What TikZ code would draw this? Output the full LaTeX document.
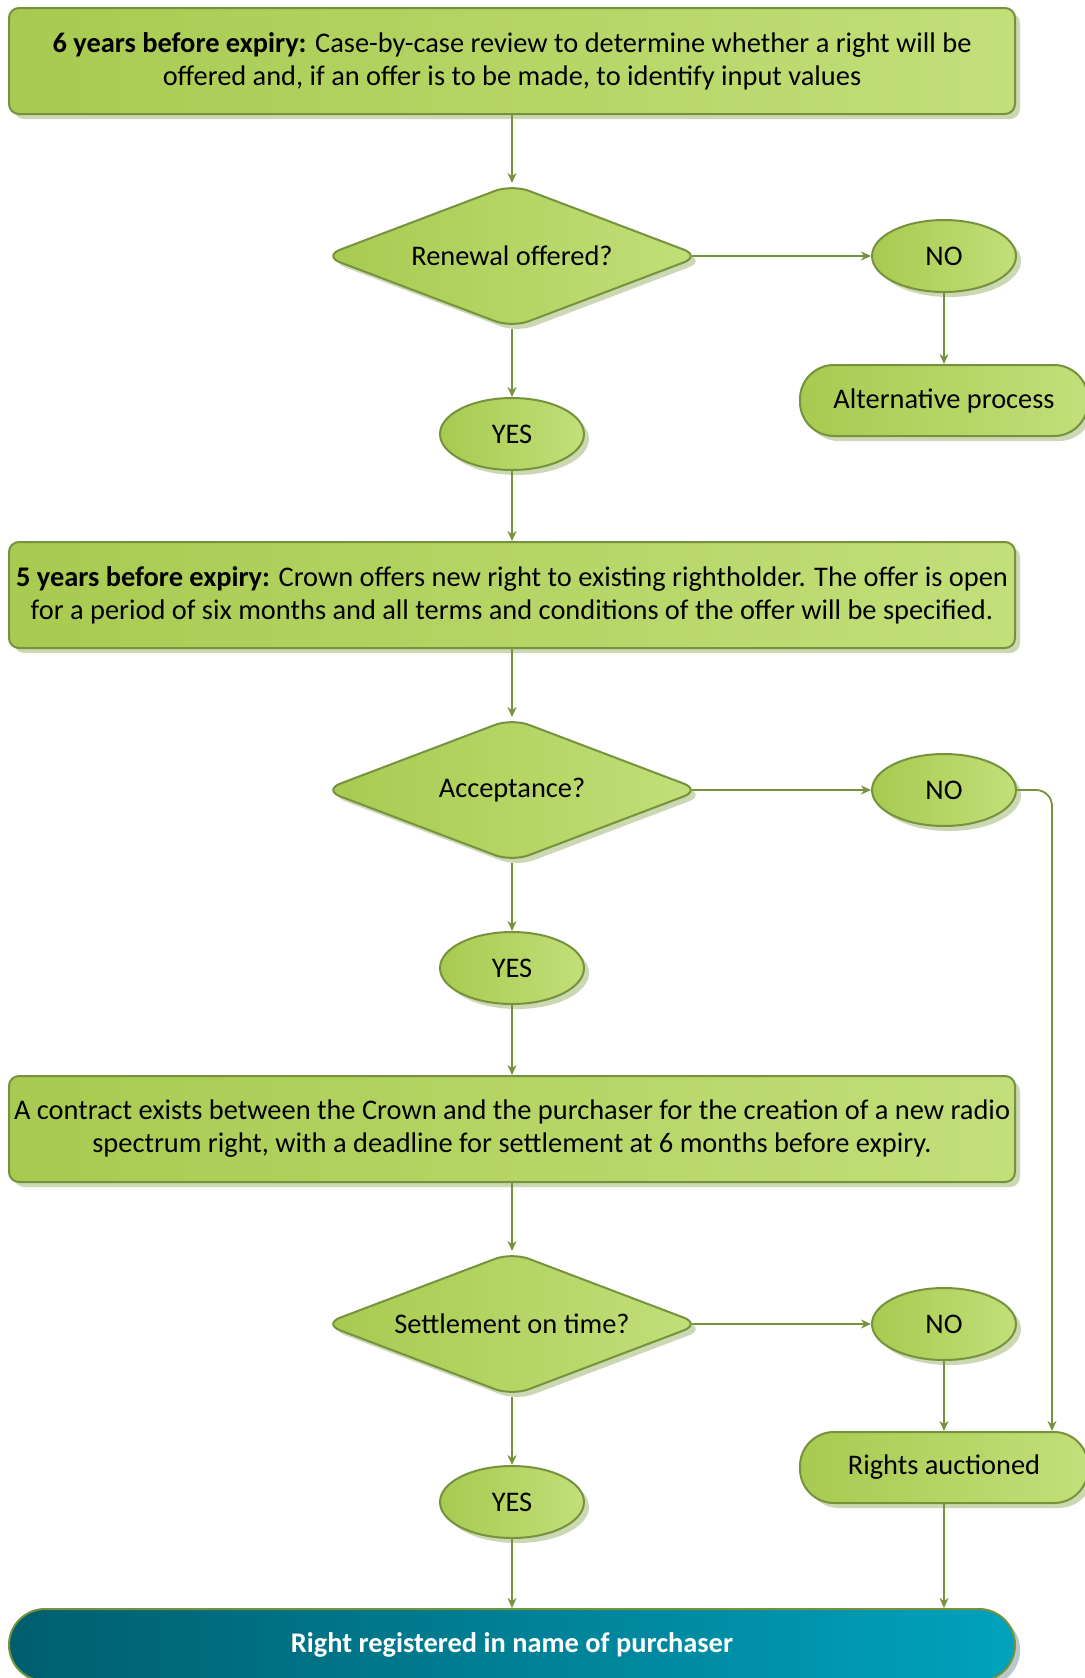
\documentclass[tikz,border=0pt]{standalone}
\usepackage{fontspec}
\setmainfont{Carlito}
\usetikzlibrary{shapes.geometric, arrows.meta, positioning, shadows}
\definecolor{leafdark}{HTML}{A8CA50}
\definecolor{leaflight}{HTML}{C2DF7A}
\definecolor{leafline}{HTML}{76923C}
\definecolor{leafshadow}{HTML}{CCD8B4}
\definecolor{tealdark}{HTML}{005E6E}
\definecolor{teallight}{HTML}{00A2BD}
\definecolor{tealshadow}{HTML}{B8C8CC}

\begin{document}
\begin{tikzpicture}[
        x=0.5pt, y=-0.5pt,
        % Node styles
        base/.style={
            draw=leafline, line width=1pt,
            left color=leafdark, right color=leaflight,
            drop shadow={shadow xshift=2.5pt, shadow yshift=-2.5pt,
                fill=leafshadow, opacity=1},
            font=\fontsize{14.2}{16.5}\selectfont, inner sep=0pt,
        },
        stepbox/.style={
            base, rectangle, rounded corners=5pt, align=center,
            minimum width=503pt, minimum height=53pt,
        },
        decision/.style={
            base, diamond, aspect=2.5, rounded corners=9pt,
            minimum width=189pt, minimum height=72pt,
        },
        answer/.style={
            base, ellipse, minimum width=72pt, minimum height=36pt,
        },
        outcome/.style={
            base, rectangle, rounded corners=17pt,
            minimum width=144pt, minimum height=35.5pt,
        },
        register/.style={
            stepbox, rounded corners=18pt, minimum height=36pt,
            left color=tealdark, right color=teallight, text=white,
            drop shadow={shadow xshift=2.5pt, shadow yshift=-2.5pt,
                fill=tealshadow, opacity=1},
            font=\fontsize{14.2}{16.5}\selectfont\bfseries,
        },
        % Connector styles
        flow/.style={
            draw=leafline, line width=0.9pt,
            -{Stealth[length=5pt, width=4.5pt]},
        },
        % the rounded diamond tip sits inside its east anchor
        branch/.style={flow, shorten <=-5pt},
    ]
    \useasboundingbox (0,0) rectangle (1084,1678);

    % --- Main column ---
    \node[stepbox] (box1) at (512,61) {\textbf{6 years before expiry:} Case-by-case review to determine whether a right will be\\offered and, if an offer is to be made, to identify input values};
    \node[decision] (dia1) at (512,256) {Renewal offered?};
    \node[answer] (yes1) at (512,434) {YES};
    \node[stepbox] (box2) at (512,595) {\textbf{5 years before expiry:} Crown offers new right to existing rightholder. The offer is open\\for a period of six months and all terms and conditions of the offer will be specified.};
    \node[decision] (dia2) at (512,790) {Acceptance?};
    \node[answer] (yes2) at (512,968) {YES};
    \node[stepbox] (box3) at (512,1129) {A contract exists between the Crown and the purchaser for the creation of a new radio\\spectrum right, with a deadline for settlement at 6 months before expiry.};
    \node[decision] (dia3) at (512,1324) {Settlement on time?};
    \node[answer] (yes3) at (512,1502) {YES};
    \node[register] (final) at (512,1645) {Right registered in name of purchaser};

    % --- Side branch ---
    \node[answer] (no1) at (944,256) {NO};
    \node[outcome, below=35.5pt of no1] (alt) {Alternative process};
    \node[answer] (no2) at (944,790) {NO};
    \node[answer] (no3) at (944,1324) {NO};
    \node[outcome, below=35pt of no3] (rights) {Rights auctioned};

    % --- Connectors ---
    \foreach \from/\to in {box1/dia1, dia1/yes1, yes1/box2, box2/dia2, dia2/yes2,
            yes2/box3, box3/dia3, dia3/yes3, yes3/final, no1/alt, no3/rights} {
        \draw[flow] (\from) -- (\to);
    }
    \foreach \from/\to in {dia1/no1, dia2/no2, dia3/no3} {
        \draw[branch] (\from) -- (\to);
    }
    \draw[flow, rounded corners=8pt] (no2.east) -| ([xshift=54pt]rights.north);
    \draw[flow] (rights) -- (rights |- final.north);

\end{tikzpicture}
\end{document}
